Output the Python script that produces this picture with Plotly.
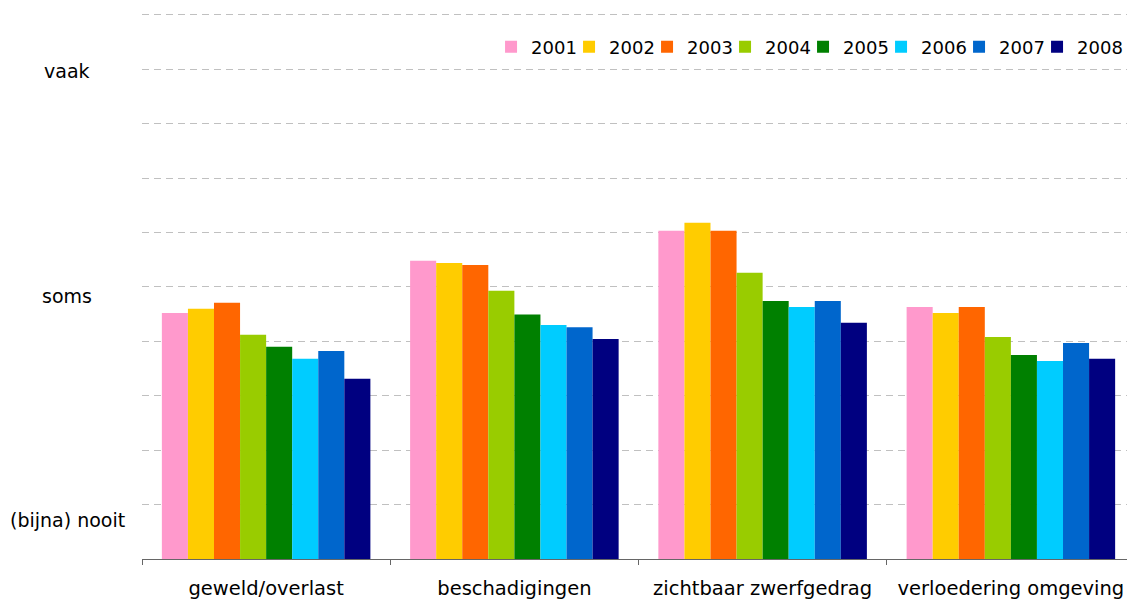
import plotly.graph_objects as go

categories = ["geweld/overlast", "beschadigingen", "zichtbaar zwerfgedrag", "verloedering omgeving"]
years = ["2001", "2002", "2003", "2004", "2005", "2006", "2007", "2008"]
colors = ["#FF99CC", "#FFCC00", "#FF6600", "#99CC00", "#008000", "#00CCFF", "#0066CC", "#000080"]

# score per jaar, per categorie (schaal 0-10, gelezen uit de grafiek)
values = {
    "2001": [4.52, 5.48, 6.03, 4.63],
    "2002": [4.60, 5.44, 6.18, 4.52],
    "2003": [4.71, 5.40, 6.03, 4.63],
    "2004": [4.12, 4.93, 5.26, 4.08],
    "2005": [3.90, 4.49, 4.74, 3.75],
    "2006": [3.68, 4.30, 4.63, 3.64],
    "2007": [3.82, 4.26, 4.74, 3.97],
    "2008": [3.31, 4.04, 4.34, 3.68],
}

scale_labels = ["vaak", "soms", "(bijna) nooit"]
scale_pos = [8.97, 4.83, 0.72]

FONT = "DejaVu Sans"

fig = go.Figure()
for year, color in zip(years, colors):
    fig.add_trace(go.Bar(x=categories, y=values[year], name=year, marker_color=color,
                         marker_line_width=0,
                         legendwidth=47 if year == years[-1] else None))

for label, pos in zip(scale_labels, scale_pos):
    fig.add_annotation(text=label, xref="paper", x=0, xshift=-75, xanchor="center",
                       yref="y", y=pos, yanchor="middle", showarrow=False,
                       font=dict(family=FONT, size=19, color="#000000"))

# the page puts the figure 8px from the top-left corner
fig.update_layout(
    width=1127, height=593,
    margin=dict(l=134, r=0, t=4, b=42),
    paper_bgcolor="white", plot_bgcolor="white",
    barmode="group", bargap=0.16, bargroupgap=0,
    font=dict(family=FONT, size=18, color="#000000"),
    showlegend=True,
    legend=dict(orientation="h", x=0.3515, xanchor="left", y=0.936, yanchor="middle",
                entrywidth=33, font=dict(family=FONT, size=18), bgcolor="rgba(0,0,0,0)",
                traceorder="normal"),
)
fig.update_xaxes(showline=True, linecolor="#666666", linewidth=1, ticks="outside",
                 tickson="boundaries", ticklen=5, tickcolor="#666666", showgrid=False,
                 ticklabelstandoff=12, tickfont=dict(family=FONT, size=19.5))
fig.update_yaxes(range=[0, 10.05], dtick=1, showticklabels=False, showgrid=True,
                 gridcolor="#C0C0C0", griddash="7px,5px", gridwidth=1, zeroline=False,
                 showline=False)

fig.write_html("out.html")
